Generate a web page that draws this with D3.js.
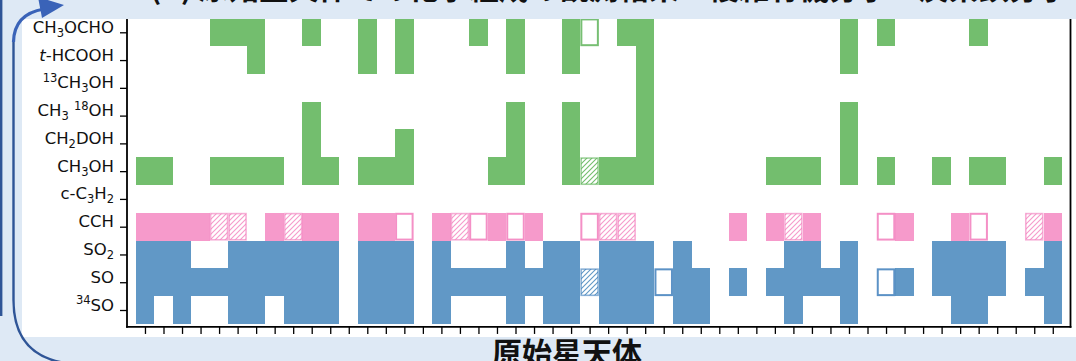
<!DOCTYPE html>
<html>
<head>
<meta charset="utf-8">
<script src="https://cdn.jsdelivr.net/npm/d3@7"></script>
<style>
  html, body { margin: 0; padding: 0; background: #dee9f5; }
  svg { display: block; }
</style>
</head>
<body>
<svg id="chart" width="1076" height="361"></svg>
<script>
// species rows, top to bottom (mini markup: _n subscript, ^n superscript, *t* italic)
const species = ["CH_3OCHO", "*t*-HCOOH", "^13CH_3OH", "CH_3 ^18OH", "CH_2DOH", "CH_3OH",
                 "c-C_3H_2", "CCH", "SO_2", "SO", "^34SO"];
const speciesGroup = ["com", "com", "com", "com", "com", "com", "carbon", "carbon", "sulfur", "sulfur", "sulfur"];
const nSources = 50;

// source indices (0..49) per species row
const detected = [
  [4, 5, 6, 9, 12, 14, 18, 20, 23, 26, 27, 38, 40, 45],
  [6, 12, 14, 20, 23, 27, 38],
  [27],
  [9, 20, 23, 27, 38],
  [9, 14, 20, 23, 27, 38],
  [0, 1, 4, 5, 6, 7, 9, 10, 12, 13, 14, 19, 20, 23, 25, 26, 27, 34, 35, 36, 38, 40, 43, 45, 46, 49],
  [],
  [0, 1, 2, 3, 7, 9, 10, 12, 13, 16, 19, 21, 32, 34, 36, 41, 44, 49],
  [0, 1, 2, 5, 6, 7, 8, 9, 10, 12, 13, 14, 16, 20, 22, 23, 25, 26, 27, 29, 35, 36, 38, 43, 44, 45, 46, 49],
  [0, 1, 2, 3, 4, 5, 6, 7, 8, 9, 10, 12, 13, 14, 16, 17, 18, 19, 20, 21, 22, 23, 25, 26, 27, 29, 30, 32,
   34, 35, 36, 37, 38, 41, 43, 44, 45, 46, 48, 49],
  [0, 2, 5, 6, 8, 9, 10, 12, 13, 14, 16, 20, 22, 23, 25, 26, 27, 29, 30, 35, 38, 44, 45, 49]
];
const tentative = [[], [], [], [], [], [24], [], [4, 5, 8, 17, 25, 26, 35, 48], [], [24], []];
const unclear   = [[24], [], [], [], [], [], [], [14, 18, 20, 24, 40, 45], [], [28, 40], []];

const titleText = "(b) 原始星天体での化学組成の観測結果：複雑有機分子・炭素鎖分子・硫黄分子の検出状況";
const xLabel = "原始星天体";

const fillColor = d3.scaleOrdinal().domain(["com", "carbon", "sulfur"]).range(["#73be6e", "#f69acb", "#6198c6"]);
const lineColor = d3.scaleOrdinal().domain(["com", "carbon", "sulfur"]).range(["#5fb45a", "#f27cbc", "#3f7fbc"]);

const svg = d3.select("#chart");

const x = d3.scaleLinear().domain([-0.97, 49.93]).range([127, 1070]);
const y = d3.scaleLinear().domain([0, species.length - 1]).range([32.3, 310]);

// figure area
svg.append("rect").attr("x", 22).attr("y", 19).attr("width", 1054).attr("height", 318).attr("fill", "#fff");

// hatch patterns
const defs = svg.append("defs");
fillColor.domain().forEach(g => {
  const p = defs.append("pattern")
    .attr("id", "hatch-" + g)
    .attr("patternUnits", "userSpaceOnUse")
    .attr("width", 5).attr("height", 5);
  p.append("rect").attr("width", 5).attr("height", 5).attr("fill", "#fff");
  p.append("path")
    .attr("d", "M-1,6 L6,-1 M-1,1 L1,-1 M4,6 L6,4")
    .attr("stroke", fillColor(g))
    .attr("stroke-width", 1.1);
});

const cells = [];
species.forEach((s, i) => {
  detected[i].forEach(c => cells.push({ row: i, col: c, kind: "det" }));
  tentative[i].forEach(c => cells.push({ row: i, col: c, kind: "tent" }));
  unclear[i].forEach(c => cells.push({ row: i, col: c, kind: "unc" }));
});

const plot = svg.append("g");
const cw = x(0.5) - x(-0.5);
const ch = y(0.5) - y(-0.5);

plot.selectAll("rect.det")
  .data(cells.filter(d => d.kind === "det"))
  .join("rect")
    .attr("class", "det")
    .attr("x", d => x(d.col - 0.5))
    .attr("y", d => y(d.row - 0.5))
    .attr("width", cw)
    .attr("height", ch)
    .attr("shape-rendering", "crispEdges")
    .attr("fill", d => fillColor(speciesGroup[d.row]));

plot.selectAll("rect.tent")
  .data(cells.filter(d => d.kind === "tent"))
  .join("rect")
    .attr("class", "tent")
    .attr("x", d => x(d.col - 0.5) + 0.8)
    .attr("y", d => y(d.row - 0.5) + 0.8)
    .attr("width", cw - 1.6)
    .attr("height", ch - 1.6)
    .attr("fill", d => `url(#hatch-${speciesGroup[d.row]})`)
    .attr("stroke", d => lineColor(speciesGroup[d.row]))
    .attr("stroke-opacity", 0.6)
    .attr("stroke-width", 1.6);

plot.selectAll("rect.unc")
  .data(cells.filter(d => d.kind === "unc"))
  .join("rect")
    .attr("class", "unc")
    .attr("x", d => x(d.col - 0.5) + 1)
    .attr("y", d => y(d.row - 0.5) + 1)
    .attr("width", cw - 2)
    .attr("height", ch - 2)
    .attr("fill", "#fff")
    .attr("stroke", d => lineColor(speciesGroup[d.row]))
    .attr("stroke-opacity", 0.85)
    .attr("stroke-width", 2);

// axes
const yBottom = y(species.length - 1 + 0.61);
const yTop = y(-0.61);

const xAxis = svg.append("g")
  .attr("transform", `translate(0,${yBottom})`)
  .call(d3.axisBottom(x).tickValues(d3.range(nSources)).tickFormat("").tickSize(7).tickSizeOuter(0));
xAxis.select(".domain").remove();
xAxis.selectAll(".tick line").attr("stroke", "#000").attr("stroke-width", 1.3);

const yAxis = svg.append("g")
  .attr("transform", `translate(127,0)`)
  .call(d3.axisLeft(y).tickValues(d3.range(species.length)).tickFormat("").tickSize(7).tickSizeOuter(0));
yAxis.select(".domain").remove();
yAxis.selectAll(".tick line").attr("stroke", "#000").attr("stroke-width", 1.3);

const fs = 16.5, small = 11.5;
yAxis.selectAll(".tick").each(function(i) {
  const t = d3.select(this).append("text")
    .attr("x", -13)
    .attr("dy", "0.36em")
    .attr("fill", "#111")
    .attr("text-anchor", "end")
    .style("font-family", "'DejaVu Sans', sans-serif")
    .style("font-size", fs + "px");
  const src = species[i];
  const re = /(_\d+)|(\^\d+)|(\*[^*]+\*)|([^_^*]+)/g;
  let m, shift = 0;
  while ((m = re.exec(src)) !== null) {
    let txt, size = fs, off = 0, ital = false;
    if (m[1]) { txt = m[1].slice(1); size = small; off = 4; }
    else if (m[2]) { txt = m[2].slice(1); size = small; off = -6.5; }
    else if (m[3]) { txt = m[3].slice(1, -1); ital = true; }
    else { txt = m[4]; }
    t.append("tspan")
      .attr("dy", off - shift)
      .style("font-size", size + "px")
      .style("font-style", ital ? "italic" : null)
      .text(txt);
    shift = off;
  }
});

// spines
const spine = svg.append("g").attr("stroke", "#000").attr("stroke-width", 1.8).attr("fill", "none");
spine.append("line").attr("x1", 127).attr("x2", 127).attr("y1", yTop).attr("y2", yBottom + 0.9);
spine.append("line").attr("x1", 1070.5).attr("x2", 1070.5).attr("y1", yTop).attr("y2", yBottom + 0.9);
spine.append("line").attr("x1", 126.1).attr("x2", 1071.4).attr("y1", yBottom).attr("y2", yBottom);

// panel decoration: title band, frame lines and arrow
svg.append("rect").attr("x", 0).attr("y", 0).attr("width", 1076).attr("height", 19).attr("fill", "#dee9f5");
svg.append("rect").attr("x", 0).attr("y", 337).attr("width", 1076).attr("height", 24).attr("fill", "#dee9f5");
svg.append("rect").attr("x", 0).attr("y", 0).attr("width", 22).attr("height", 361).attr("fill", "#dee9f5");

svg.append("text")
  .attr("x", 150).attr("y", -1)
  .attr("fill", "#111")
  .style("font-family", "'Noto Sans CJK JP', sans-serif")
  .style("font-weight", "bold")
  .style("font-size", "30px")
  .text(titleText);

svg.append("text")
  .attr("x", 567).attr("y", 364)
  .attr("fill", "#111")
  .attr("text-anchor", "middle")
  .style("font-family", "'Noto Sans CJK JP', sans-serif")
  .style("font-weight", "bold")
  .style("font-size", "30px")
  .text(xLabel);

svg.append("line").attr("x1", 1.2).attr("x2", 1.2).attr("y1", 0).attr("y2", 316)
  .attr("stroke", "#2f5597").attr("stroke-width", 2.4);
svg.append("path")
  .attr("d", "M13.5,40 L13.5,300 Q13.5,360 75,364")
  .attr("fill", "none").attr("stroke", "#2f5597").attr("stroke-width", 2.4);
svg.append("path")
  .attr("d", "M13.5,42 Q14,14 44,9")
  .attr("fill", "none").attr("stroke", "#3a63b8").attr("stroke-width", 3.2);
svg.append("path")
  .attr("d", "M38,-3 L64,5 L42,18 Z")
  .attr("fill", "#3a63b8");
</script>
</body>
</html>
